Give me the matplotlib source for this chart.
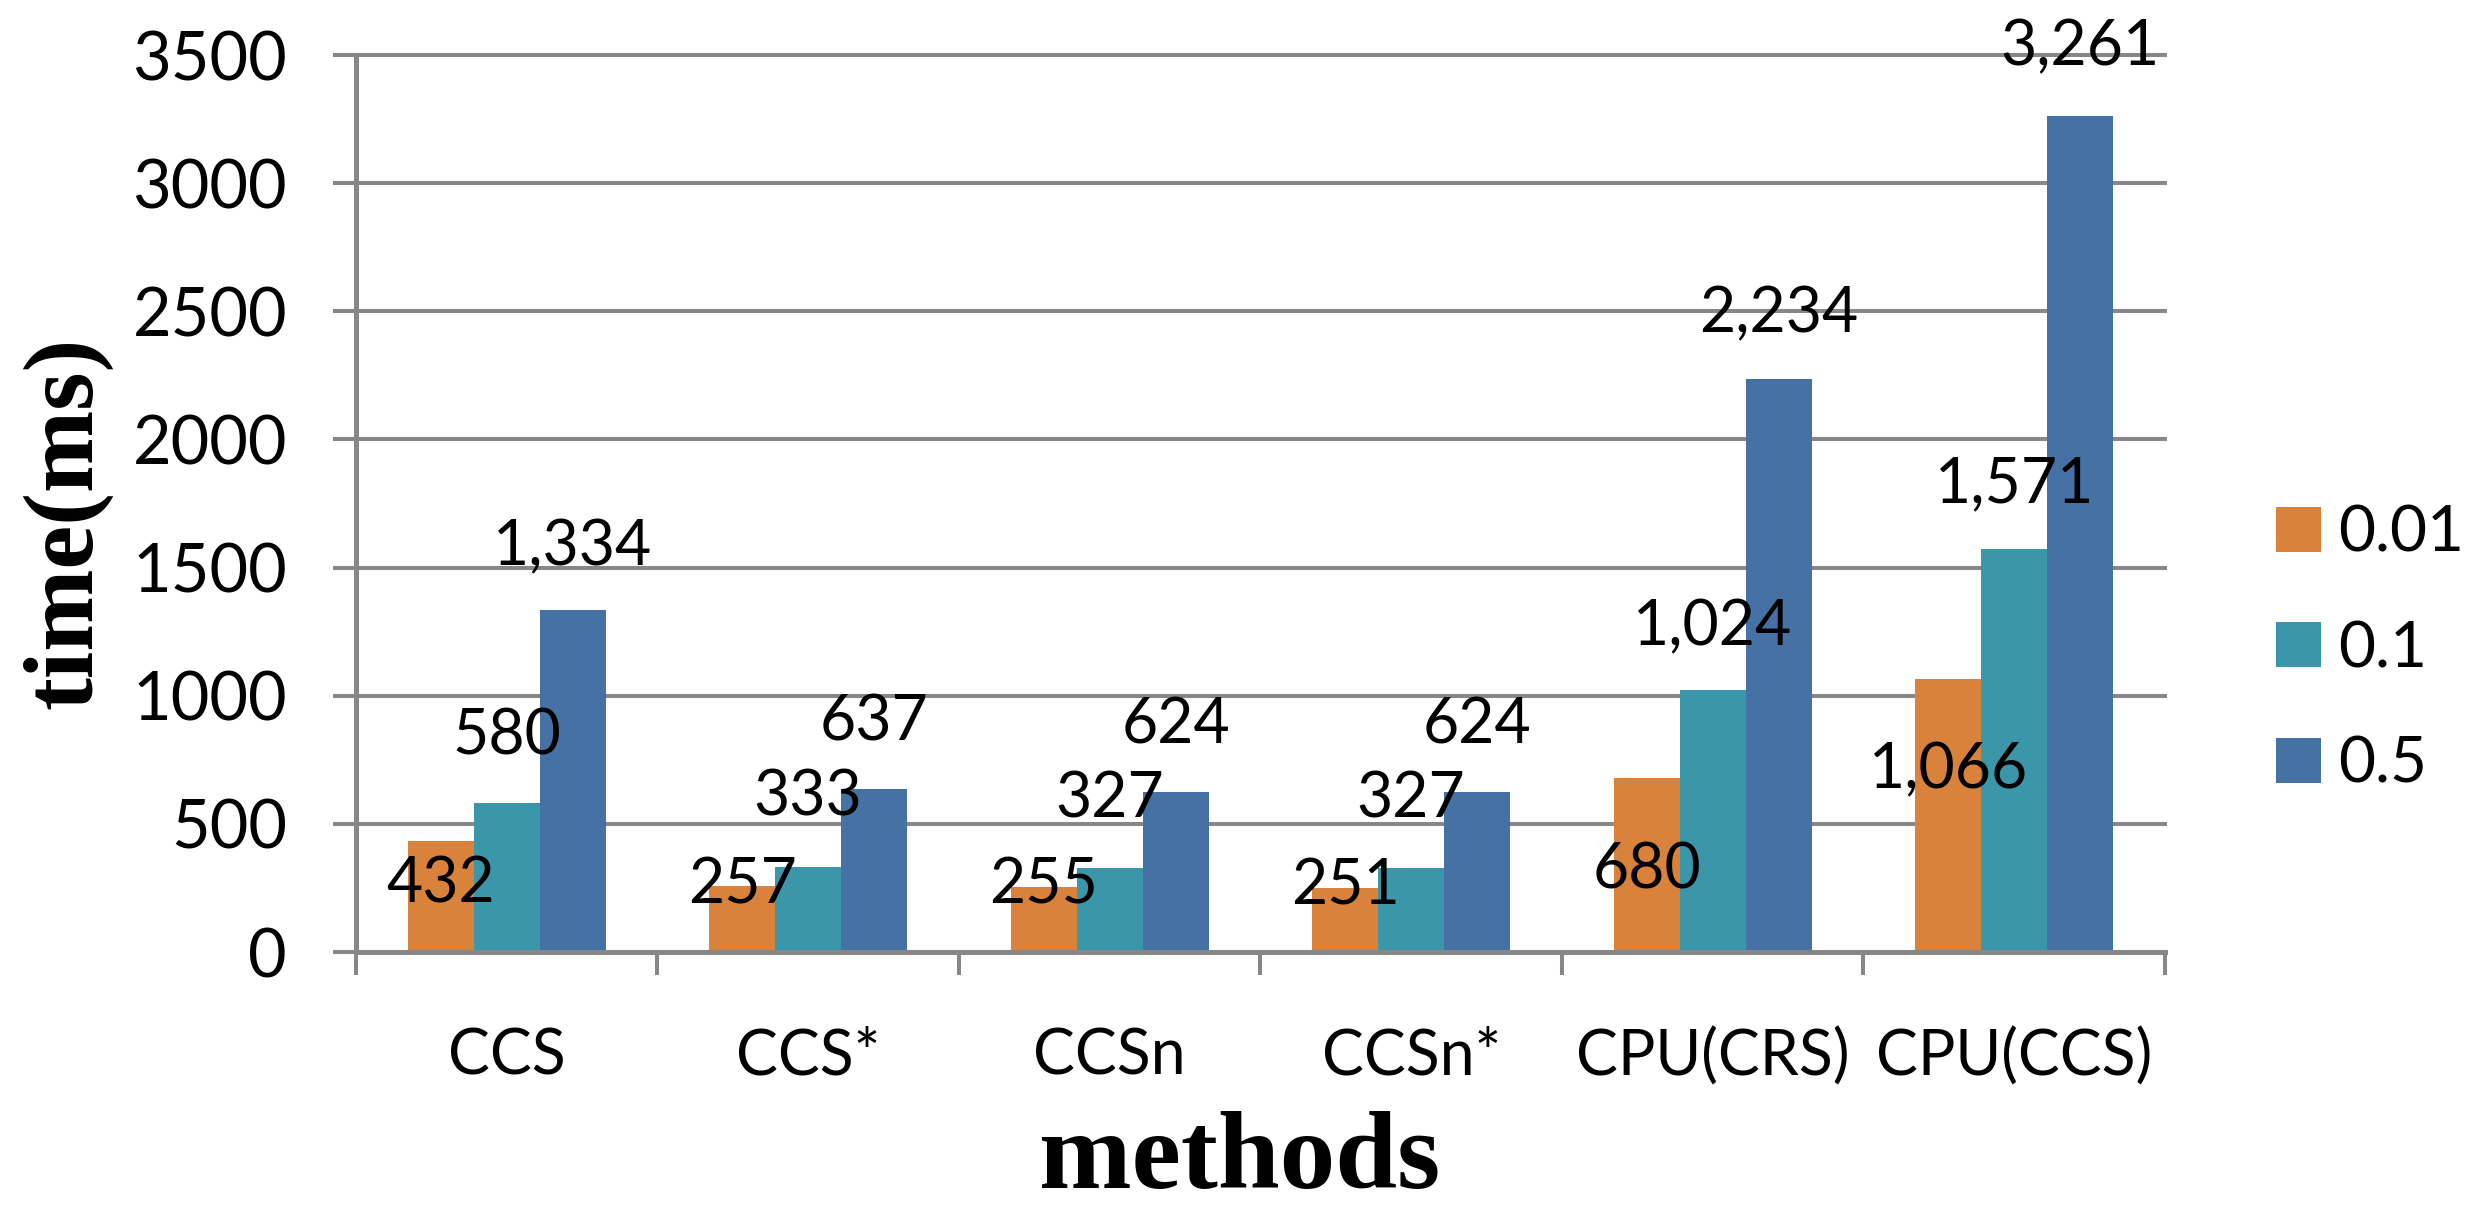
import matplotlib
matplotlib.use("Agg")
import matplotlib.pyplot as plt
import numpy as np

# ---- data ----
methods = ["CCS", "CCS*", "CCSn", "CCSn*", "CPU(CRS)", "CPU(CCS)"]
series_names = ["0.01", "0.1", "0.5"]
time_001 = [432, 257, 255, 251, 680, 1066]
time_01 = [580, 333, 327, 327, 1024, 1571]
time_05 = [1334, 637, 624, 624, 2234, 3261]
y_ticks = [0, 500, 1000, 1500, 2000, 2500, 3000, 3500]

# ---- style ----
plt.rcParams["font.family"] = ["Lato", "DejaVu Sans"]
colors = ["#D9823B", "#3B96AA", "#4571A5"]
grid_color = "#878787"
# baseline offsets (points) of each value label relative to its bar top
label_offsets = [
    [-44, -12.5, -12, -12, -79.5, -79],
    [35, 36.5, 36.5, 36.5, 32, 34],
    [32, 35, 35, 35, 34, 36.5],
]

fig = plt.figure(figsize=(24.87, 12.12), dpi=100)
ax = fig.add_axes([0.1431, 0.2145, 0.7274, 0.7401])

x = np.arange(len(methods))
bar_w = 0.219
all_series = [time_001, time_01, time_05]
for i, (name, vals) in enumerate(zip(series_names, all_series)):
    xs = x + (i - 1) * bar_w
    ax.bar(xs, vals, bar_w, color=colors[i], linewidth=0, zorder=2, label=name)
    for xi, v, off in zip(xs, vals, label_offsets[i]):
        ax.annotate(f"{v:,}", xy=(xi, v), xytext=(0, off),
                    textcoords="offset points", ha="center", va="baseline",
                    fontsize=45, zorder=4, annotation_clip=False)

# axes limits and ticks
ax.set_xlim(-0.5, len(methods) - 0.5)
ax.set_ylim(0, 3500)
ax.set_xticks(np.arange(-0.5, len(methods), 1.0))
ax.set_xticklabels([])
ax.set_xticks(x, minor=True)
ax.set_xticklabels(methods, minor=True)
ax.tick_params(axis="x", which="major", length=16.6, width=2.9,
               color=grid_color, direction="out")
ax.tick_params(axis="x", which="minor", length=0, pad=54, labelsize=45)
ax.set_yticks(y_ticks)
ax.tick_params(axis="y", length=16.6, width=2.9, color=grid_color,
               pad=33, labelsize=48)

ax.yaxis.grid(True, color=grid_color, linewidth=2.9)
ax.set_axisbelow(True)
for gl in ax.get_ygridlines():
    gl.set_clip_on(False)

for side in ("top", "right"):
    ax.spines[side].set_visible(False)
for side in ("left", "bottom"):
    ax.spines[side].set_color(grid_color)
    ax.spines[side].set_linewidth(3.6)

# axis titles
fig.text(0.027, 0.5685, "time(ms)", rotation=90, ha="center", va="center",
         family=["Liberation Serif", "DejaVu Serif"], weight="bold", size=71)
fig.text(0.4986, 0.001, "methods", ha="center", va="bottom",
         family=["Liberation Serif", "DejaVu Serif"], weight="bold", size=80)

ax.legend(loc="center left", bbox_to_anchor=(2276 / 2487, 1 - 649 / 1212),
          bbox_transform=fig.transFigure, frameon=False, borderaxespad=0,
          borderpad=0, handlelength=0.7, handleheight=0.7,
          handletextpad=0.27, labelspacing=0.9, prop={"size": 46})

fig.savefig("out.png", dpi=100, facecolor="white")
